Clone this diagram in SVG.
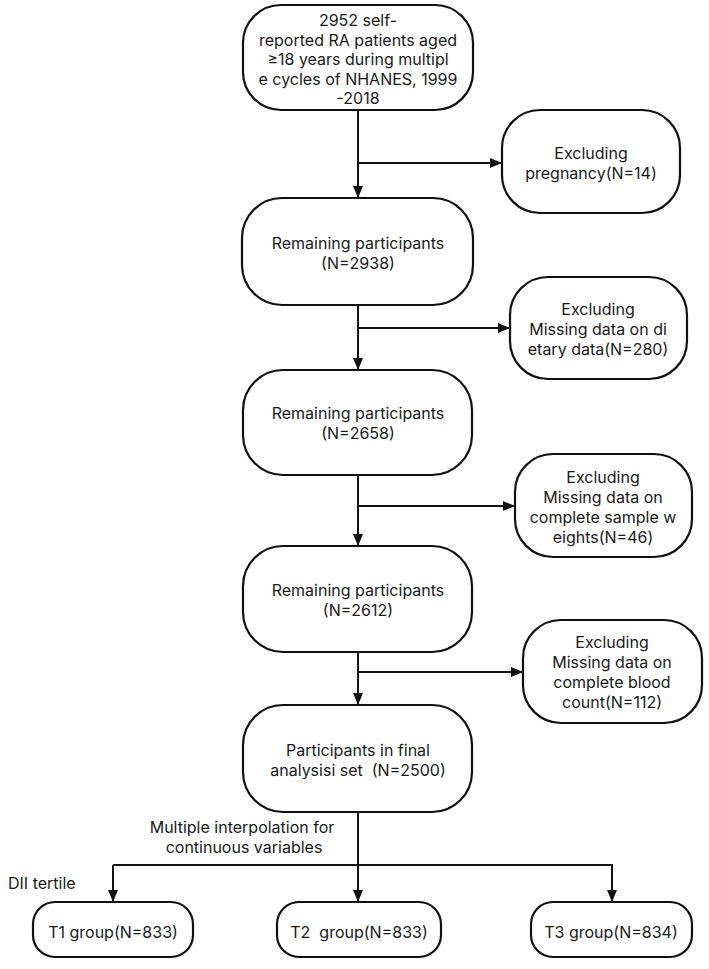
<svg xmlns="http://www.w3.org/2000/svg" width="709" height="969" viewBox="0 0 709 969">
<style>
.box{fill:#fff;stroke:#111;stroke-width:2.2}
.ln{fill:none;stroke:#111;stroke-width:2}
text{font-family:Inter,"Open Sans","Liberation Sans",sans-serif;font-size:16px;fill:#1a1a1a;text-anchor:middle;white-space:pre}
.l{text-anchor:start}
</style>
<defs>
<marker id="ah" viewBox="0 0 12 10" refX="12" refY="5" markerWidth="12" markerHeight="10" markerUnits="userSpaceOnUse" orient="auto">
<path d="M0,0 L12,5 L0,10 Z" fill="#111"/>
</marker>
</defs>
<rect width="709" height="969" fill="#fff"/>
<g id="connectors">
<line class="ln" x1="358" y1="110" x2="358" y2="198" marker-end="url(#ah)"/>
<line class="ln" x1="358" y1="163" x2="502" y2="163" marker-end="url(#ah)"/>
<line class="ln" x1="358" y1="305" x2="358" y2="370" marker-end="url(#ah)"/>
<line class="ln" x1="358" y1="328" x2="510" y2="328" marker-end="url(#ah)"/>
<line class="ln" x1="358" y1="475" x2="358" y2="546" marker-end="url(#ah)"/>
<line class="ln" x1="358" y1="506" x2="515" y2="506" marker-end="url(#ah)"/>
<line class="ln" x1="358" y1="652" x2="358" y2="705" marker-end="url(#ah)"/>
<line class="ln" x1="358" y1="672" x2="523" y2="672" marker-end="url(#ah)"/>
<line class="ln" x1="358" y1="812" x2="358" y2="902" marker-end="url(#ah)"/>
<polyline class="ln" points="113,865 612,865 612,902" marker-end="url(#ah)"/>
<line class="ln" x1="113" y1="865" x2="113" y2="902" marker-end="url(#ah)"/>
</g>
<g id="n0">
<rect class="box" x="243" y="5" width="230" height="105" rx="38"/>
<text x="358" y="26">2952 self-</text>
<text x="358" y="45.5">reported RA patients aged</text>
<text x="358" y="65">≥18 years during multipl</text>
<text x="358" y="84.5">e cycles of NHANES, 1999</text>
<text x="358" y="104">-2018</text>
</g>
<g id="e1">
<rect class="box" x="502" y="110" width="178" height="103" rx="38"/>
<text x="591" y="159">Excluding</text>
<text x="591" y="179">pregnancy(N=14)</text>
</g>
<g id="n1">
<rect class="box" x="242" y="198" width="231" height="107" rx="40"/>
<text x="358" y="249">Remaining participants</text>
<text x="358" y="269">(N=2938)</text>
</g>
<g id="e2">
<rect class="box" x="510" y="277" width="177" height="102" rx="38"/>
<text x="598" y="315">Excluding</text>
<text x="598" y="335">Missing data on di</text>
<text x="598" y="355">etary data(N=280)</text>
</g>
<g id="n2">
<rect class="box" x="243" y="370" width="229" height="105" rx="40"/>
<text x="358" y="419">Remaining participants</text>
<text x="358" y="439">(N=2658)</text>
</g>
<g id="e3">
<rect class="box" x="515" y="454" width="177" height="103" rx="38"/>
<text x="603" y="483">Excluding</text>
<text x="603" y="503">Missing data on</text>
<text x="603" y="523">complete sample w</text>
<text x="603" y="543">eights(N=46)</text>
</g>
<g id="n3">
<rect class="box" x="243" y="546" width="229" height="106" rx="40"/>
<text x="358" y="596">Remaining participants</text>
<text x="358" y="616">(N=2612)</text>
</g>
<g id="e4">
<rect class="box" x="523" y="620" width="179" height="103" rx="38"/>
<text x="612" y="648">Excluding</text>
<text x="612" y="668">Missing data on</text>
<text x="612" y="688">complete blood</text>
<text x="612" y="708">count(N=112)</text>
</g>
<g id="n4">
<rect class="box" x="243" y="705" width="229" height="107" rx="40"/>
<text x="358" y="756">Participants in final</text>
<text x="358" y="776">analysisi set  (N=2500)</text>
</g>
<g id="labels">
<text x="242" y="833">Multiple interpolation for</text>
<text x="244" y="853">continuous variables</text>
<text class="l" x="8" y="889">DII tertile</text>
</g>
<g id="t1">
<rect class="box" x="33" y="902" width="160" height="55" rx="22"/>
<text x="113" y="938">T1 group(N=833)</text>
</g>
<g id="t2">
<rect class="box" x="277" y="902" width="164" height="55" rx="22"/>
<text x="359" y="938">T2  group(N=833)</text>
</g>
<g id="t3">
<rect class="box" x="531" y="902" width="161" height="55" rx="22"/>
<text x="611" y="938">T3 group(N=834)</text>
</g>
</svg>
